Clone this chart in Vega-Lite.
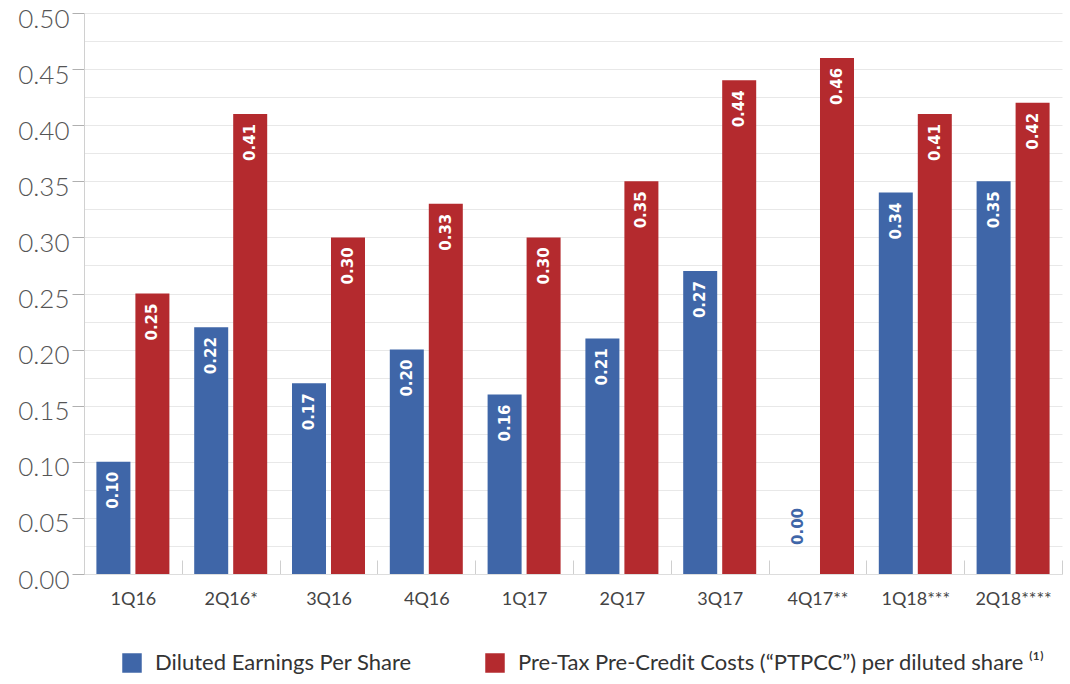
{
  "$schema": "https://vega.github.io/schema/vega-lite/v6.json",
  "width": 978,
  "height": 561,
  "autosize": {"type": "none"},
  "padding": {"left": 84, "top": 13, "right": 8, "bottom": 110},
  "background": "white",
  "config": {"view": {"stroke": null}, "font": "Lato"},
  "data": {
    "values": [
      {"quarter": "1Q16", "series": "Diluted Earnings Per Share", "value": 0.10},
      {"quarter": "1Q16", "series": "Pre-Tax Pre-Credit Costs (“PTPCC”) per diluted share ⁽¹⁾", "value": 0.25},
      {"quarter": "2Q16*", "series": "Diluted Earnings Per Share", "value": 0.22},
      {"quarter": "2Q16*", "series": "Pre-Tax Pre-Credit Costs (“PTPCC”) per diluted share ⁽¹⁾", "value": 0.41},
      {"quarter": "3Q16", "series": "Diluted Earnings Per Share", "value": 0.17},
      {"quarter": "3Q16", "series": "Pre-Tax Pre-Credit Costs (“PTPCC”) per diluted share ⁽¹⁾", "value": 0.30},
      {"quarter": "4Q16", "series": "Diluted Earnings Per Share", "value": 0.20},
      {"quarter": "4Q16", "series": "Pre-Tax Pre-Credit Costs (“PTPCC”) per diluted share ⁽¹⁾", "value": 0.33},
      {"quarter": "1Q17", "series": "Diluted Earnings Per Share", "value": 0.16},
      {"quarter": "1Q17", "series": "Pre-Tax Pre-Credit Costs (“PTPCC”) per diluted share ⁽¹⁾", "value": 0.30},
      {"quarter": "2Q17", "series": "Diluted Earnings Per Share", "value": 0.21},
      {"quarter": "2Q17", "series": "Pre-Tax Pre-Credit Costs (“PTPCC”) per diluted share ⁽¹⁾", "value": 0.35},
      {"quarter": "3Q17", "series": "Diluted Earnings Per Share", "value": 0.27},
      {"quarter": "3Q17", "series": "Pre-Tax Pre-Credit Costs (“PTPCC”) per diluted share ⁽¹⁾", "value": 0.44},
      {"quarter": "4Q17**", "series": "Diluted Earnings Per Share", "value": 0.00},
      {"quarter": "4Q17**", "series": "Pre-Tax Pre-Credit Costs (“PTPCC”) per diluted share ⁽¹⁾", "value": 0.46},
      {"quarter": "1Q18***", "series": "Diluted Earnings Per Share", "value": 0.34},
      {"quarter": "1Q18***", "series": "Pre-Tax Pre-Credit Costs (“PTPCC”) per diluted share ⁽¹⁾", "value": 0.41},
      {"quarter": "2Q18****", "series": "Diluted Earnings Per Share", "value": 0.35},
      {"quarter": "2Q18****", "series": "Pre-Tax Pre-Credit Costs (“PTPCC”) per diluted share ⁽¹⁾", "value": 0.42}
    ]
  },
  "encoding": {
    "x": {
      "field": "quarter",
      "type": "nominal",
      "sort": null,
      "scale": {"paddingInner": 0, "paddingOuter": 0},
      "axis": {
        "title": null,
        "labelAngle": 0,
        "tickBand": "extent",
        "tickSize": -14,
        "tickColor": "#cfcfcf",
        "domainColor": "#dddddd",
        "labelFont": "Lato",
        "labelFontSize": 18,
        "labelColor": "#444444",
        "labelPadding": 30,
        "grid": false
      }
    },
    "xOffset": {
      "field": "series",
      "type": "nominal",
      "sort": ["Diluted Earnings Per Share", "Pre-Tax Pre-Credit Costs (“PTPCC”) per diluted share ⁽¹⁾"],
      "scale": {"paddingInner": 0.128, "paddingOuter": 0.318}
    },
    "y": {
      "field": "value",
      "type": "quantitative",
      "scale": {"domain": [0, 0.5], "nice": false},
      "axis": {
        "title": null,
        "values": [0, 0.025, 0.05, 0.075, 0.1, 0.125, 0.15, 0.175, 0.2, 0.225, 0.25, 0.275, 0.3, 0.325, 0.35, 0.375, 0.4, 0.425, 0.45, 0.475, 0.5],
        "labelExpr": "round(datum.value*1000) % 50 == 0 ? format(datum.value, '.2f') : ''",
        "labelOverlap": false,
        "labelBound": false,
        "grid": true,
        "gridColor": "#e8e8e8",
        "domainColor": "#d0d0d0",
        "tickColor": {"condition": {"test": "round(datum.value*1000) % 50 == 0", "value": "#b0b0b0"}, "value": "transparent"},
        "tickSize": 12,
        "labelFont": "Lato",
        "labelFontWeight": 300,
        "labelFontSize": 26,
        "labelColor": "#555555",
        "labelPadding": 3,
        "labelOffset": 6
      }
    }
  },
  "layer": [
    {
      "mark": {"type": "bar"},
      "encoding": {
        "color": {
          "field": "series",
          "type": "nominal",
          "scale": {
            "domain": ["Diluted Earnings Per Share", "Pre-Tax Pre-Credit Costs (“PTPCC”) per diluted share ⁽¹⁾"],
            "range": ["#3f66a8", "#b42a2e"]
          },
          "legend": {
            "title": null,
            "orient": "none",
            "legendX": 37,
            "legendY": 639,
            "direction": "horizontal",
            "symbolType": "square",
            "symbolSize": 380,
            "symbolStrokeWidth": 0,
            "labelFont": "Lato",
            "labelFontSize": 22,
            "labelColor": "#333333",
            "labelLimit": 900,
            "labelOffset": 12,
            "columnPadding": 72,
            "padding": 0
          }
        }
      }
    },
    {
      "transform": [{"filter": "datum.value > 0"}],
      "mark": {"type": "text", "angle": 270, "align": "right", "baseline": "middle", "dx": -10, "color": "white", "font": "DejaVu Sans", "fontWeight": "bold", "fontSize": 15},
      "encoding": {"text": {"field": "value", "type": "quantitative", "format": ".2f"}}
    },
    {
      "transform": [{"filter": "datum.value == 0"}],
      "mark": {"type": "text", "angle": 270, "align": "left", "baseline": "middle", "dx": 29, "color": "#3f66a8", "font": "DejaVu Sans", "fontWeight": "bold", "fontSize": 15},
      "encoding": {"text": {"field": "value", "type": "quantitative", "format": ".2f"}}
    }
  ]
}
